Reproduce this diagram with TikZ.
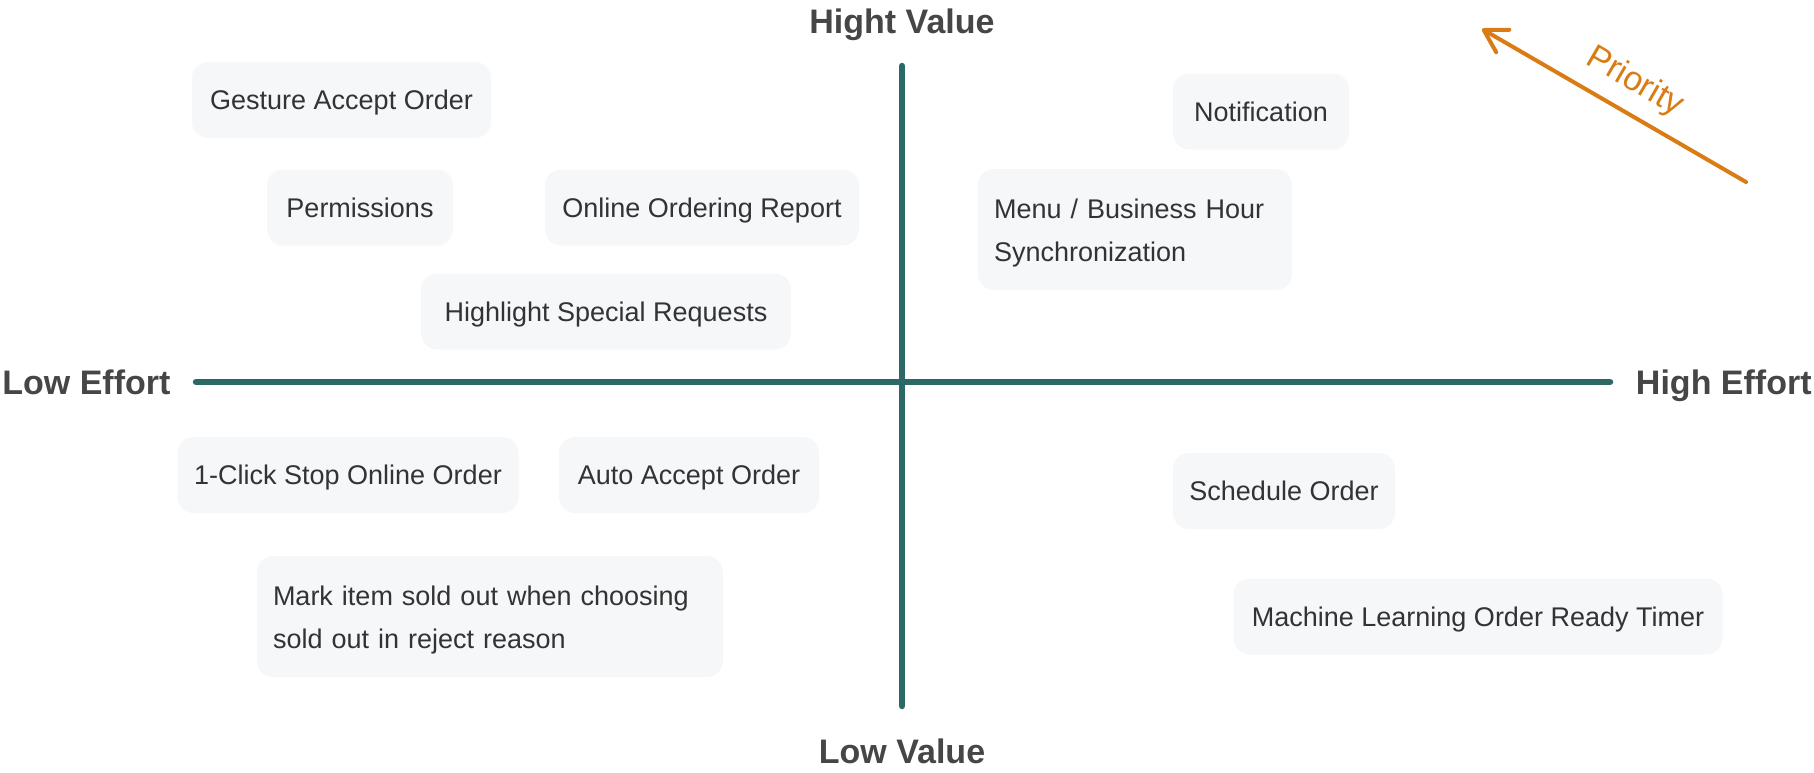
\documentclass[tikz,border=0pt]{standalone}
\usepackage{fontspec}
\setmainfont{Liberation Sans}
\usetikzlibrary{arrows.meta}
\definecolor{axisteal}{HTML}{2C6866}
\definecolor{cardgray}{HTML}{F6F7F9}
\definecolor{cardtext}{HTML}{333333}
\definecolor{axislabel}{HTML}{464646}
\definecolor{prioorange}{HTML}{D97C14}
\newcommand{\cardstrut}{\rule{0pt}{13.2pt}}
\tikzset{
  card/.style={fill=cardgray, rounded corners=8pt, text=cardtext, font=\fontsize{13.5}{21.5}\selectfont, minimum height=38pt, inner xsep=8pt, text height=9.7pt, text depth=0pt},
  tallcard/.style={card, text height=, text depth=, minimum height=60.5pt, align=left},
  axislbl/.style={text=axislabel, font=\fontsize{17}{20}\selectfont\bfseries, inner sep=0pt},
  axisline/.style={axisteal, line width=3.25pt, line cap=round},
  prio/.style={prioorange, line width=2pt, line cap=round, {Straight Barb[length=11pt,width=13pt,round]}-}
}

\begin{document}
\begin{tikzpicture}[x=0.5pt, y=-0.5pt]
\useasboundingbox (0,0) rectangle (1814,772);

% axes
\coordinate (top) at (902,66);
\coordinate (bottom) at (902,706);
\coordinate (left) at (196,382);
\coordinate (right) at (1610,382);
\draw [axisline] (left) -- (right);
\draw [axisline] (top) -- (bottom);

\node [axislbl, anchor=base] (hival) at (902,33) {Hight Value};
\node [axislbl, anchor=base] (loval) at (902,763) {Low Value};
\node [axislbl, anchor=base west] (loeff) at (2,394) {Low Effort};
\node [axislbl, anchor=base east] (hieff) at (1812,394) {High Effort};

% one-line cards
\foreach \n/\x/\y/\w/\t in {gesture/341.5/100/299/Gesture Accept Order, perms/360/207.5/186/Permissions, report/702/207.5/314/Online Ordering Report, highlight/606/311.5/370/Highlight Special Requests, notif/1261/111.5/176/Notification, stop/348/475/341/1-Click Stop Online Order, autoaccept/689/475/260/Auto Accept Order, schedule/1284/491/222/Schedule Order, mltimer/1478/616.5/489/Machine Learning Order Ready Timer}
  {\node [card, minimum width=\w*0.5pt] (\n) at (\x,\y) {\t};}

\node [tallcard, text width=141pt] (menusync) at (1135,229.5) {\cardstrut Menu / Business Hour\\Synchronization};
\node [tallcard, text width=217pt] (soldout) at (490,616.5) {\cardstrut Mark item sold out when choosing\\sold out in reject reason};

% priority
\coordinate (ptip) at (1482,29);
\coordinate (ptail) at (1746,182);
\draw [prio] (ptip) -- node [sloped, above=3pt, pos=0.52, font=\fontsize{17}{20}\selectfont, text=prioorange] (priolbl) {Priority} (ptail);

\end{tikzpicture}
\end{document}
